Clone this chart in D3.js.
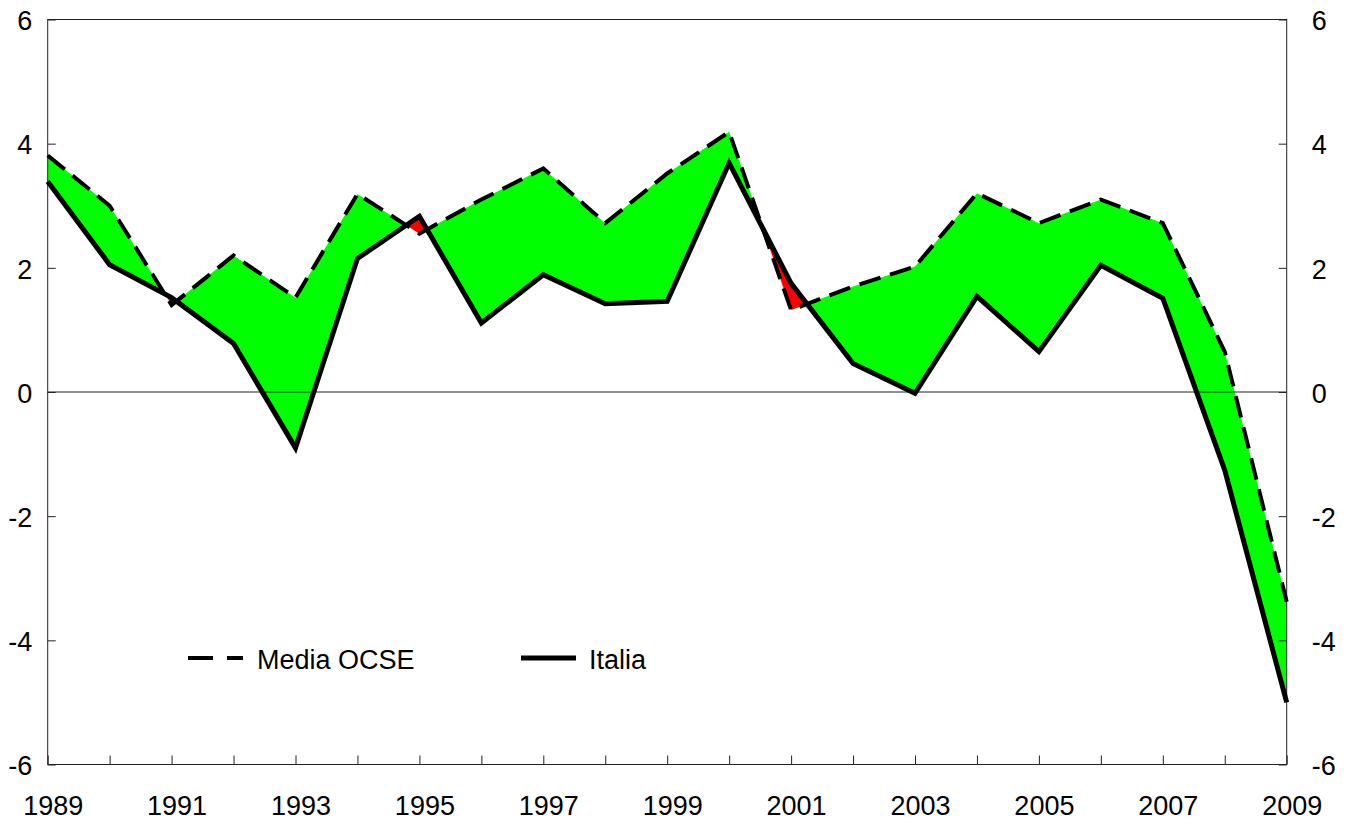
<!DOCTYPE html>
<html>
<head>
<meta charset="utf-8">
<script src="https://cdn.jsdelivr.net/npm/d3@7"></script>
<style>
  html, body { margin: 0; padding: 0; background: #fff; }
  svg { display: block; font-family: "Liberation Sans", Arial, sans-serif; }
</style>
</head>
<body>
<svg class="canvas" width="1359" height="825"></svg>
<script>
const years = [1989, 1990, 1991, 1992, 1993, 1994, 1995, 1996, 1997, 1998, 1999,
  2000, 2001, 2002, 2003, 2004, 2005, 2006, 2007, 2008, 2009];
const ocse = [3.81, 3.0, 1.4, 2.2, 1.52, 3.19, 2.55, 3.1, 3.6, 2.72, 3.52,
  4.19, 1.32, 1.7, 2.02, 3.2, 2.72, 3.1, 2.72, 0.65, -3.38];
const italia = [3.39, 2.05, 1.52, 0.78, -0.9, 2.15, 2.83, 1.11, 1.89, 1.42, 1.46,
  3.69, 1.75, 0.46, -0.02, 1.54, 0.65, 2.04, 1.51, -1.26, -5.0];
const yTicks = [-6, -4, -2, 0, 2, 4, 6];
const xLabels = [1989, 1991, 1993, 1995, 1997, 1999, 2001, 2003, 2005, 2007, 2009];
const seriesNames = ["Media OCSE", "Italia"];

const data = years.map((yr, i) => ({ year: yr, ocse: ocse[i], italia: italia[i] }));

const svg = d3.select(".canvas");
const plotLeft = 47.7, plotRight = 1286.7, plotTop = 19.5, plotBottom = 764.5;

const x = d3.scaleLinear().domain([1989, 2009]).range([plotLeft, plotRight]);
const y = d3.scaleLinear().domain([-6, 6]).range([plotBottom, plotTop]);

// clip regions above / below the Italia line
const defs = svg.append("defs");
defs.append("clipPath").attr("id", "clip-above")
  .append("path")
  .attr("d", d3.area().x((d) => x(d.year)).y0(plotTop).y1((d) => y(d.italia))(data));
defs.append("clipPath").attr("id", "clip-below")
  .append("path")
  .attr("d", d3.area().x((d) => x(d.year)).y0(plotBottom).y1((d) => y(d.italia))(data));

const band = d3.area()
  .x((d) => x(d.year))
  .y0((d) => y(d.italia))
  .y1((d) => y(d.ocse));

svg.append("path")
  .attr("d", band(data))
  .attr("fill", "#00ff00")
  .attr("clip-path", "url(#clip-above)");
svg.append("path")
  .attr("d", band(data))
  .attr("fill", "#ff0000")
  .attr("clip-path", "url(#clip-below)");

// zero line
svg.append("line")
  .attr("x1", plotLeft).attr("x2", plotRight)
  .attr("y1", y(0)).attr("y2", y(0))
  .attr("stroke", "#222").attr("stroke-width", 1);

// frame
svg.append("rect")
  .attr("x", plotLeft).attr("y", plotTop)
  .attr("width", plotRight - plotLeft).attr("height", plotBottom - plotTop)
  .attr("fill", "none").attr("stroke", "#222").attr("stroke-width", 1);

// axes
const styleAxis = (g) => {
  g.select(".domain").remove();
  g.selectAll(".tick line").attr("stroke", "#222");
  g.selectAll(".tick text").attr("fill", "#000").style("font-size", "27px");
};
svg.append("g")
  .attr("transform", `translate(${plotLeft},0)`)
  .call(d3.axisLeft(y).tickValues(yTicks).tickSize(-8).tickSizeOuter(0).tickPadding(15.5)
    .tickFormat((d) => String(d)))
  .call(styleAxis)
  .call((g) => g.selectAll(".tick text").attr("dy", "0.38em"));
svg.append("g")
  .attr("transform", `translate(${plotRight},0)`)
  .call(d3.axisRight(y).tickValues(yTicks).tickSize(-8).tickSizeOuter(0).tickPadding(25)
    .tickFormat((d) => String(d)))
  .call(styleAxis)
  .call((g) => g.selectAll(".tick text").attr("dy", "0.38em"));
svg.append("g")
  .attr("transform", `translate(0,${plotBottom})`)
  .call(d3.axisBottom(x).tickValues(years).tickSize(-9).tickSizeOuter(0).tickPadding(31)
    .tickFormat((d) => (xLabels.includes(d) ? String(d) : "")))
  .call(styleAxis)
  .call((g) => g.selectAll(".tick text").attr("dx", 5));

// lines
const lineOcse = d3.line().x((d) => x(d.year)).y((d) => y(d.ocse));
const lineItalia = d3.line().x((d) => x(d.year)).y((d) => y(d.italia));
svg.append("path")
  .attr("d", lineOcse(data))
  .attr("fill", "none").attr("stroke", "#000")
  .attr("stroke-width", 4).attr("stroke-dasharray", "22,10");
svg.append("path")
  .attr("d", lineItalia(data))
  .attr("fill", "none").attr("stroke", "#000")
  .attr("stroke-width", 5);

// legend
const legend = svg.append("g");
legend.append("line")
  .attr("x1", 188).attr("x2", 243).attr("y1", 658).attr("y2", 658)
  .attr("stroke", "#000").attr("stroke-width", 4).attr("stroke-dasharray", "25,14");
legend.append("text")
  .attr("x", 257).attr("y", 669)
  .style("font-size", "27px")
  .text(seriesNames[0]);
legend.append("line")
  .attr("x1", 521).attr("x2", 576).attr("y1", 658).attr("y2", 658)
  .attr("stroke", "#000").attr("stroke-width", 5);
legend.append("text")
  .attr("x", 589).attr("y", 669)
  .style("font-size", "27px")
  .text(seriesNames[1]);
</script>
</body>
</html>
